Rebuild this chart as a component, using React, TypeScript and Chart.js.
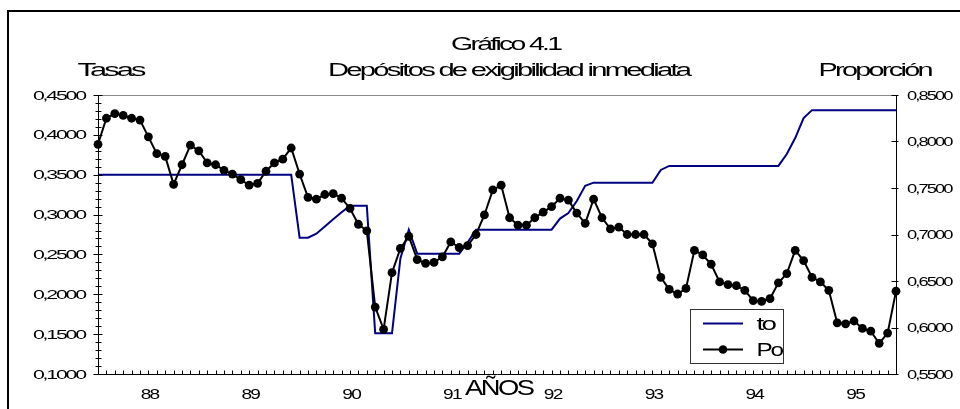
import React, { useEffect, useRef } from 'react';
import { Chart, registerables } from 'chart.js';

Chart.register(...registerables);

// ---- data ----
const years = ['88', '89', '90', '91', '92', '93', '94', '95'];
const months = ['Ene', 'Feb', 'Mar', 'Abr', 'May', 'Jun', 'Jul', 'Ago', 'Sep', 'Oct', 'Nov', 'Dic'];
const categories = years.flatMap((y) => months.map((m) => `${m}-${y}`));
const yearLabelMonth = 'Jul';

// tasa "to" (left axis)
const toSeries = [
  0.35, 0.35, 0.35, 0.35, 0.35, 0.35, 0.35, 0.35, 0.35, 0.35, 0.35, 0.35,
  0.35, 0.35, 0.35, 0.35, 0.35, 0.35, 0.35, 0.35, 0.35, 0.35, 0.35, 0.35,
  0.271, 0.271, 0.276, 0.285, 0.294, 0.303, 0.311, 0.311, 0.311, 0.151, 0.151, 0.151,
  0.245, 0.281, 0.251, 0.251, 0.251, 0.251, 0.251, 0.251, 0.265, 0.281, 0.281, 0.281,
  0.281, 0.281, 0.281, 0.281, 0.281, 0.281, 0.281, 0.295, 0.302, 0.317, 0.336, 0.340,
  0.340, 0.340, 0.340, 0.340, 0.340, 0.340, 0.340, 0.356, 0.361, 0.361, 0.361, 0.361,
  0.361, 0.361, 0.361, 0.361, 0.361, 0.361, 0.361, 0.361, 0.361, 0.361, 0.376, 0.396,
  0.421, 0.431, 0.431, 0.431, 0.431, 0.431, 0.431, 0.431, 0.431, 0.431, 0.431, 0.431,
];

// proporción "Po" (right axis)
const poSeries = [
  0.797, 0.825, 0.830, 0.828, 0.825, 0.823, 0.805, 0.787, 0.784, 0.754, 0.775, 0.796,
  0.790, 0.777, 0.775, 0.769, 0.765, 0.759, 0.753, 0.755, 0.768, 0.777, 0.781, 0.793,
  0.765, 0.740, 0.738, 0.743, 0.744, 0.739, 0.728, 0.711, 0.704, 0.622, 0.598, 0.659,
  0.685, 0.698, 0.673, 0.669, 0.670, 0.676, 0.692, 0.686, 0.688, 0.700, 0.721, 0.748,
  0.753, 0.718, 0.710, 0.710, 0.718, 0.724, 0.730, 0.739, 0.737, 0.723, 0.712, 0.738,
  0.718, 0.706, 0.708, 0.700, 0.700, 0.700, 0.690, 0.654, 0.641, 0.636, 0.642, 0.683,
  0.678, 0.668, 0.649, 0.646, 0.645, 0.640, 0.629, 0.628, 0.631, 0.648, 0.658, 0.683,
  0.672, 0.654, 0.649, 0.640, 0.605, 0.604, 0.607, 0.599, 0.596, 0.583, 0.594, 0.639,
];

const leftTicks = [0.10, 0.15, 0.20, 0.25, 0.30, 0.35, 0.40, 0.45];
const leftMinorStep = 0.01;
const rightTicks = [0.55, 0.60, 0.65, 0.70, 0.75, 0.80, 0.85];

const titleLines = ['Gráfico 4.1', 'Depósitos de exigibilidad inmediata'];
const leftAxisTitle = 'Tasas';
const rightAxisTitle = 'Proporción';
const xAxisTitle = 'AÑOS';
const seriesNames = ['to', 'Po'];

const fmt = (v: number) => v.toFixed(4).replace('.', ',');

const FONT = '"Liberation Sans", Arial, sans-serif';

// draws text horizontally stretched to a target width, with tight letter spacing
function drawText(
  ctx: CanvasRenderingContext2D,
  s: string,
  x: number,
  y: number,
  size: number,
  width: number,
  ls: number,
  align: 'left' | 'center' | 'right'
) {
  ctx.save();
  ctx.font = `${size}px ${FONT}`;
  (ctx as any).letterSpacing = `${ls}px`;
  ctx.textAlign = 'left';
  ctx.textBaseline = 'alphabetic';
  const raw = ctx.measureText(s).width - ls;
  const sx = width / raw;
  let x0 = x;
  if (align === 'center') x0 = x - width / 2;
  else if (align === 'right') x0 = x - width;
  ctx.translate(x0, y);
  ctx.scale(sx, 1);
  ctx.fillStyle = '#000';
  ctx.fillText(s, 0, 0);
  ctx.restore();
}

function seg(ctx: CanvasRenderingContext2D, x1: number, y1: number, x2: number, y2: number) {
  ctx.beginPath();
  ctx.moveTo(x1, y1);
  ctx.lineTo(x2, y2);
  ctx.stroke();
}

const overlay = {
  id: 'overlay',
  afterDatasetsDraw(chart: any) {
    const ctx: CanvasRenderingContext2D = chart.ctx;
    const { left, right, top, bottom } = chart.chartArea;
    const xs = chart.scales.x;
    const yl = chart.scales.yL;
    const yr = chart.scales.yR;
    ctx.save();

    // outer frame
    ctx.strokeStyle = '#000';
    ctx.lineWidth = 2;
    ctx.beginPath();
    ctx.moveTo(8, 420);
    ctx.lineTo(8, 11);
    ctx.lineTo(970, 11);
    ctx.stroke();

    // plot area top border
    ctx.lineWidth = 1;
    ctx.strokeStyle = '#8a8a8a';
    seg(ctx, left, top + 0.5, right, top + 0.5);

    // axes lines
    ctx.strokeStyle = '#000';
    const L = Math.round(left) + 0.5;
    const R = Math.round(right) + 0.5;
    const B = Math.round(bottom) + 0.5;
    seg(ctx, L, top, L, bottom + 0.5);
    seg(ctx, R, top, R, bottom + 0.5);
    seg(ctx, left, B, right + 1, B);

    // left ticks (major + minor)
    const nMinor = Math.round((yl.max - yl.min) / leftMinorStep);
    for (let i = 0; i <= nMinor; i++) {
      const v = yl.min + i * leftMinorStep;
      const y = Math.round(yl.getPixelForValue(v)) + 0.5;
      const major = i % 5 === 0;
      if (major) seg(ctx, L - 5, y, L + 4, y);
      else seg(ctx, L - 3, y, L + 3, y);
    }
    // right ticks
    rightTicks.forEach((v) => {
      const y = Math.round(yr.getPixelForValue(v)) + 0.5;
      seg(ctx, R - 5, y, R + 2, y);
    });
    // x ticks
    categories.forEach((_, i) => {
      const x = Math.round(xs.getPixelForValue(i)) + 0.5;
      seg(ctx, x, B - 4, x, B);
    });

    // tick labels
    leftTicks.forEach((v) => {
      const y = yl.getPixelForValue(v);
      drawText(ctx, fmt(v), 87, y + 4.5, 12.5, 54, -1.3, 'right');
    });
    rightTicks.forEach((v) => {
      const y = yr.getPixelForValue(v);
      drawText(ctx, fmt(v), 907, y + 4.5, 12.5, 46.5, -1.3, 'left');
    });
    categories.forEach((c, i) => {
      const [m, y] = c.split('-');
      if (m === yearLabelMonth) {
        drawText(ctx, y, xs.getPixelForValue(i) + 2, 399, 14.5, 19.5, -1.3, 'center');
      }
    });

    // titles
    drawText(ctx, titleLines[0], 507, 50, 18, 112, -1.7, 'center');
    drawText(ctx, titleLines[1], 510, 76, 18, 364, -1.7, 'center');
    drawText(ctx, leftAxisTitle, 112, 76, 18, 69, -1.7, 'center');
    drawText(ctx, rightAxisTitle, 876, 76, 18, 115, -1.7, 'center');
    drawText(ctx, xAxisTitle, 500, 394.5, 22, 70, -2, 'center');

    // legend
    const lx = 690.5, ly = 309.5, lw = 93, lh = 54;
    ctx.fillStyle = '#fff';
    ctx.fillRect(lx, ly, lw, lh);
    ctx.strokeStyle = '#333';
    ctx.lineWidth = 1;
    ctx.strokeRect(lx, ly, lw, lh);
    ctx.strokeStyle = '#000080';
    ctx.lineWidth = 2;
    seg(ctx, 703, 323.5, 743, 323.5);
    ctx.strokeStyle = '#000';
    seg(ctx, 703, 349.5, 743, 349.5);
    ctx.fillStyle = '#000';
    ctx.beginPath();
    ctx.arc(723, 349.5, 4.3, 0, Math.PI * 2);
    ctx.fill();
    drawText(ctx, seriesNames[0], 756.5, 330, 19, 20.5, -1.8, 'left');
    drawText(ctx, seriesNames[1], 756.5, 356, 19, 27.5, -1.8, 'left');

    ctx.restore();
  },
};

const whiteBg = {
  id: 'whiteBg',
  beforeDraw(chart: any) {
    const ctx = chart.ctx;
    ctx.save();
    ctx.fillStyle = '#fff';
    ctx.fillRect(0, 0, chart.width, chart.height);
    ctx.restore();
  },
};

export default function App() {
  const ref = useRef<HTMLCanvasElement | null>(null);
  useEffect(() => {
    if (!ref.current) return;
    const chart = new Chart(ref.current, {
      type: 'line',
      data: {
        labels: categories,
        datasets: [
          {
            label: seriesNames[0],
            data: toSeries,
            yAxisID: 'yL',
            borderColor: '#000080',
            backgroundColor: '#000080',
            borderWidth: 2,
            pointRadius: 0,
            tension: 0,
            clip: false,
            order: 1,
          },
          {
            label: seriesNames[1],
            data: poSeries,
            yAxisID: 'yR',
            borderColor: '#000',
            backgroundColor: '#000',
            borderWidth: 2,
            pointRadius: 4.4,
            pointBorderWidth: 0,
            pointBackgroundColor: '#000',
            tension: 0,
            clip: false,
            order: 0,
          },
        ],
      },
      options: {
        responsive: false,
        maintainAspectRatio: false,
        animation: false,
        events: [],
        layout: { padding: { left: 98, right: 64, top: 95, bottom: 35 } },
        plugins: {
          legend: { display: false },
          title: { display: false },
          tooltip: { enabled: false },
        },
        scales: {
          x: { type: 'category', display: false, offset: false },
          yL: { type: 'linear', position: 'left', display: false, min: 0.1, max: 0.45 },
          yR: { type: 'linear', position: 'right', display: false, min: 0.55, max: 0.85 },
        },
      },
      plugins: [whiteBg, overlay],
    });
    return () => chart.destroy();
  }, []);

  return (
    <div style={{ position: 'fixed', left: 0, top: 0, width: 960, height: 409, background: '#fff' }}>
      <canvas ref={ref} width={960} height={409} style={{ display: 'block', width: 960, height: 409 }} />
    </div>
  );
}
